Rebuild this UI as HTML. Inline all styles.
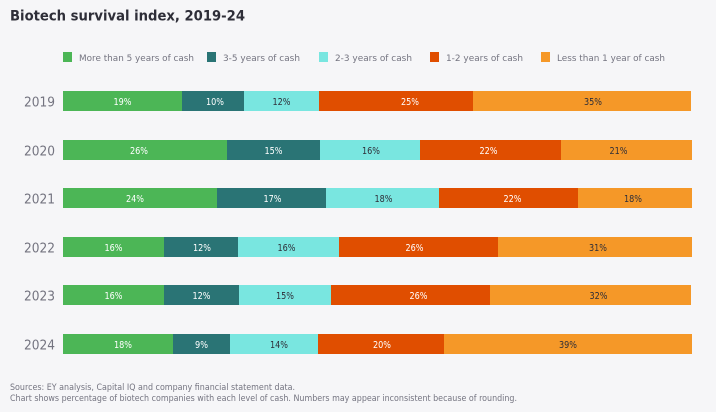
<!DOCTYPE html>
<html lang="en">
<head>
<meta charset="utf-8">
<title>Biotech survival index, 2019-24</title>
<style>
html,body{margin:0;padding:0;background:#f6f6f8;}
svg{display:block;font-family:"DejaVu Sans","Liberation Sans",sans-serif;}
</style>
</head>
<body>
<svg id="chart" xmlns="http://www.w3.org/2000/svg" width="716" height="412" viewBox="0 0 716 412">
  <rect x="0" y="0" width="716" height="412" fill="#f6f6f8"/>
  <text x="10" y="20.5" font-size="14.5" font-weight="700" fill="#2e2e38" textLength="235" lengthAdjust="spacingAndGlyphs">Biotech survival index, 2019-24</text>

  <g font-size="9" fill="#747480">
    <g>
      <rect x="63" y="52" width="9" height="10" fill="#4cb656"/>
      <text x="79" y="61" textLength="115" lengthAdjust="spacingAndGlyphs">More than 5 years of cash</text>
    </g>
    <g>
      <rect x="207" y="52" width="9" height="10" fill="#2a7475"/>
      <text x="223" y="61" textLength="77" lengthAdjust="spacingAndGlyphs">3-5 years of cash</text>
    </g>
    <g>
      <rect x="319" y="52" width="9" height="10" fill="#79e6e0"/>
      <text x="335" y="61" textLength="77" lengthAdjust="spacingAndGlyphs">2-3 years of cash</text>
    </g>
    <g>
      <rect x="430" y="52" width="9" height="10" fill="#e04e00"/>
      <text x="446" y="61" textLength="77" lengthAdjust="spacingAndGlyphs">1-2 years of cash</text>
    </g>
    <g>
      <rect x="541" y="52" width="9" height="10" fill="#f59828"/>
      <text x="557" y="61" textLength="108" lengthAdjust="spacingAndGlyphs">Less than 1 year of cash</text>
    </g>
  </g>

  <g id="plot"></g>

  <g font-size="8.5" fill="#747480">
    <text x="10" y="390" textLength="285" lengthAdjust="spacingAndGlyphs">Sources: EY analysis, Capital IQ and company financial statement data.</text>
    <text x="10" y="401" textLength="507" lengthAdjust="spacingAndGlyphs">Chart shows percentage of biotech companies with each level of cash. Numbers may appear inconsistent because of rounding.</text>
  </g>
</svg>
<script>
const years = ['2019', '2020', '2021', '2022', '2023', '2024'];
const moreThan5 = [18.95, 26.11, 24.52, 16.08, 16.08, 17.52];
const from3to5 = [9.87, 14.81, 17.36, 11.78, 11.94, 9.08];
const from2to3 = [11.94, 15.92, 17.99, 16.08, 14.65, 14.01];
const from1to2 = [24.52, 22.45, 22.13, 25.32, 25.32, 20.06];
const lessThan1 = [34.71, 20.86, 18.15, 30.89, 32.01, 39.49];
const labelsMoreThan5 = ['19%', '26%', '24%', '16%', '16%', '18%'];
const labelsFrom3to5 = ['10%', '15%', '17%', '12%', '12%', '9%'];
const labelsFrom2to3 = ['12%', '16%', '18%', '16%', '15%', '14%'];
const labelsFrom1to2 = ['25%', '22%', '22%', '26%', '26%', '20%'];
const labelsLessThan1 = ['35%', '21%', '18%', '31%', '32%', '39%'];

const seriesValues = [moreThan5, from3to5, from2to3, from1to2, lessThan1];
const seriesLabels = [labelsMoreThan5, labelsFrom3to5, labelsFrom2to3, labelsFrom1to2, labelsLessThan1];
const seriesKeys = ['more-than-5-years', '3-5-years', '2-3-years', '1-2-years', 'less-than-1-year'];
const seriesColors = ['#4cb656', '#2a7475', '#79e6e0', '#e04e00', '#f59828'];
const seriesTextColors = ['#ffffff', '#ffffff', '#2e2e38', '#ffffff', '#2e2e38'];

const NS = 'http://www.w3.org/2000/svg';
const plot = document.getElementById('plot');
function xScale(v) { return 63 + v * 6.28; }
function yScale(i) { return Math.round(91 + i * 48.6); }
const barHeight = 20;

/* Styling only: the reference's value labels sit slightly off their segment centres.
   Each label is placed at its bar's centre plus this small nudge, so it follows the data. */
function labelNudge(row, col) {
  const nudges = [
    [0, 2, 0, 14, 11],
    [-6, 0, 1, -2, -8],
    [-5, 1, 1, 4, -2],
    [0, 1, -2, -4, 3],
    [0, 0, 0, 8, 8],
    [5, 0, 5, 1, 0]
  ];
  return nudges[row][col];
}

years.forEach(function (year, i) {
  const tick = document.createElementNS(NS, 'text');
  
  
  tick.setAttribute('x', 24);
  tick.setAttribute('y', yScale(i) + 15.5);
  tick.setAttribute('font-size', '13');
  tick.setAttribute('fill', '#747480');
  tick.setAttribute('textLength', '31');
  tick.setAttribute('lengthAdjust', 'spacingAndGlyphs');
  tick.textContent = year;
  plot.appendChild(tick);

  let cumulative = 0;
  seriesValues.forEach(function (values, s) {
    const x0 = Math.round(xScale(cumulative));
    const x1 = Math.round(xScale(cumulative + values[i]));
    cumulative += values[i];

    const bar = document.createElementNS(NS, 'rect');
    
    
    bar.setAttribute('x', x0);
    bar.setAttribute('y', yScale(i));
    bar.setAttribute('width', x1 - x0);
    bar.setAttribute('height', barHeight);
    bar.setAttribute('fill', seriesColors[s]);
    plot.appendChild(bar);

    const text = seriesLabels[s][i];
    const label = document.createElementNS(NS, 'text');
    
    
    label.setAttribute('x', (x0 + x1) / 2 + labelNudge(i, s));
    label.setAttribute('y', yScale(i) + 14);
    label.setAttribute('text-anchor', 'middle');
    label.setAttribute('font-size', '9.5');
    label.setAttribute('fill', seriesTextColors[s]);
    label.setAttribute('textLength', text.length === 3 ? '18' : '13');
    label.setAttribute('lengthAdjust', 'spacingAndGlyphs');
    label.textContent = text;
    plot.appendChild(label);
  });
});
</script>
</body>
</html>
